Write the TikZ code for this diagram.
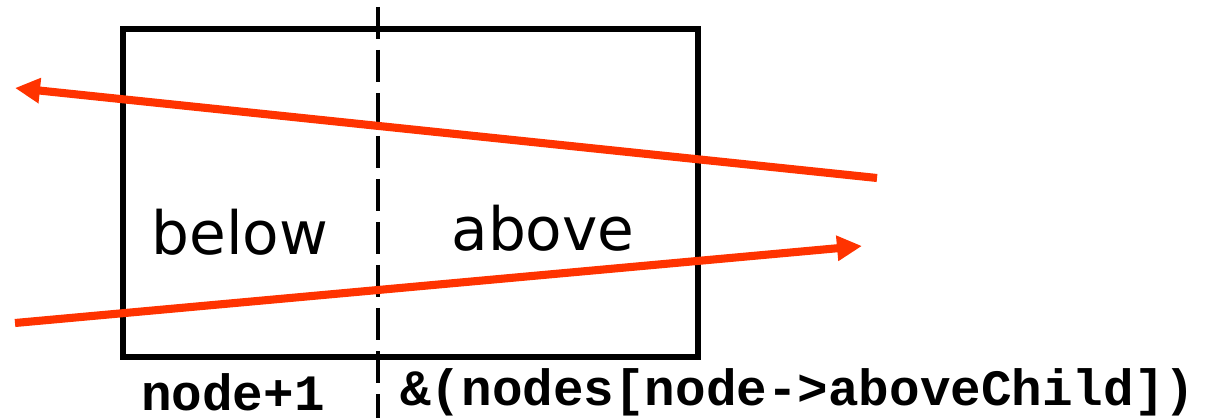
\documentclass[tikz,border=0pt]{standalone}
\usepackage{fontspec}
\setmainfont{DejaVu Sans}
\setmonofont{Liberation Mono}
\usepackage{tikz}
\usetikzlibrary{positioning,arrows.meta}
\definecolor{rayred}{HTML}{FF3300}

\begin{document}
\begin{tikzpicture}[
  x=0.02cm, y=-0.02cm, >={Triangle[length=0.5cm, width=0.48cm]},
  cell/.style={draw, line width=3.2pt},
  split/.style={line width=1.8pt, dash pattern=on 0.64cm off 0.22cm},
  ray/.style={->, rayred, line width=4.6pt},
  side/.style={font=\fontsize{34}{38}\selectfont},
  code/.style={inner sep=0pt, font=\fontsize{29}{33}\selectfont\ttfamily\bfseries},
]
  \useasboundingbox (0,0) rectangle (1227,418);
  \node[cell, minimum width=11.5cm, minimum height=6.56cm, anchor=north west] (box) at (120,26) {};
  \coordinate (splittop) at (378,7);
  \coordinate (splitbot) at (378,418);
  \draw[split] (splittop) -- (splitbot);
  \node[side] (below) at (240,232) {below};
  \node[side] (above) at (543,228) {above};
  \coordinate (farstart) at (877,178);
  \coordinate (farend) at (15,88);
  \coordinate (nearstart) at (15,323);
  \coordinate (nearend) at (862,246);
  \draw[ray] (farstart) -- (farend);
  \draw[ray] (nearstart) -- (nearend);
  \node[code] (belowidx) at (233,392) {node+1};
  \node[code, anchor=west] (aboveidx) at (400,392) {\&(nodes[node->aboveChild])};
\end{tikzpicture}
\end{document}
